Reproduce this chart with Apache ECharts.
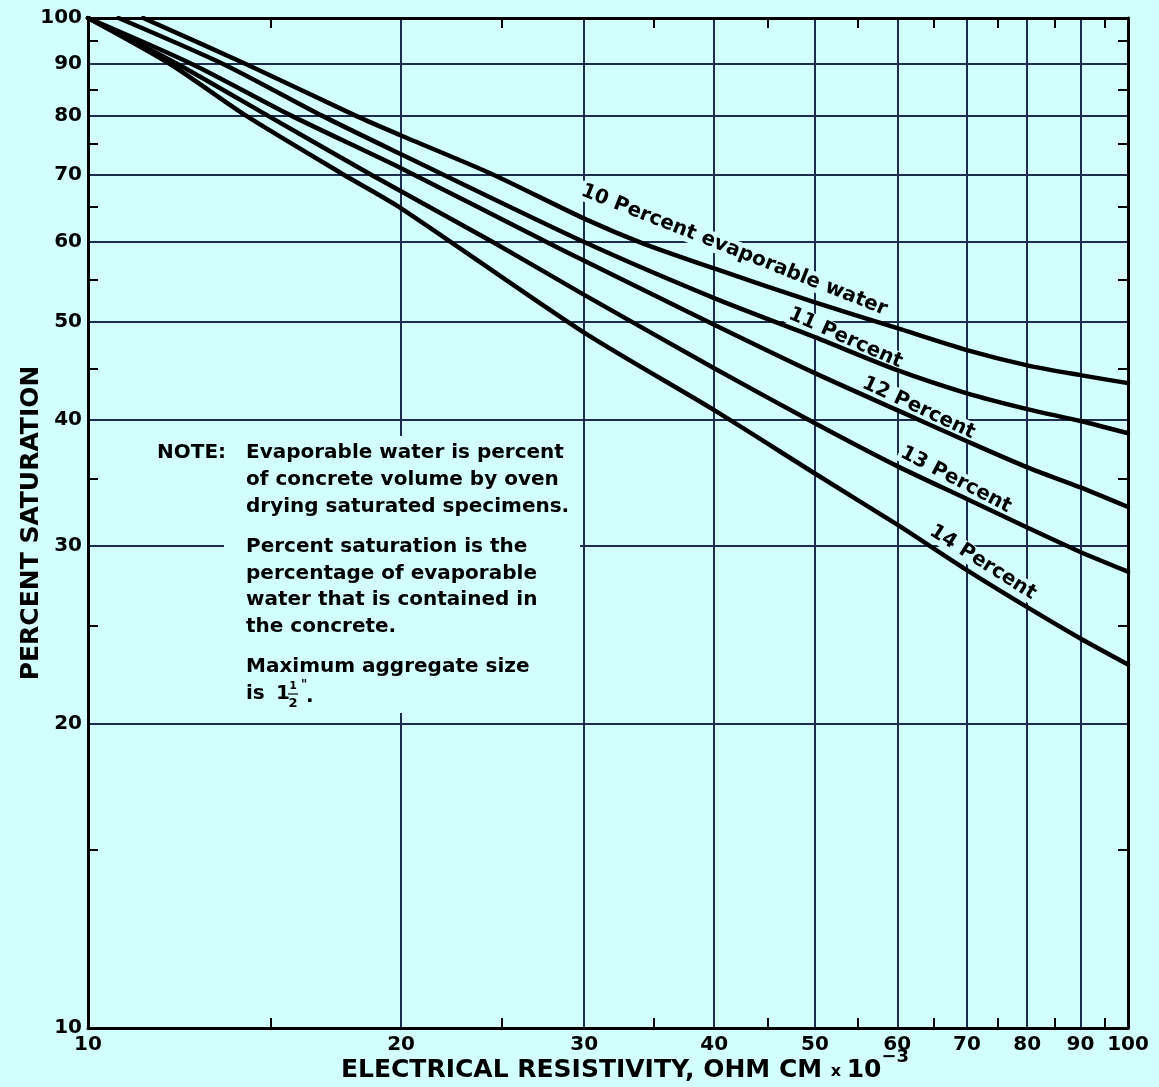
<!DOCTYPE html>
<html>
<head>
<meta charset="utf-8">
<script src="https://cdn.jsdelivr.net/npm/echarts@6/dist/echarts.min.js"></script>
<style>
html,body{margin:0;padding:0;background:#d2fefe;}
#c{width:1159px;height:1087px;}
</style>
</head>
<body>
<div id="c"></div>
<script>
// ---------- data (log-log chart) ----------
const xMajorTicks = [10, 20, 30, 40, 50, 60, 70, 80, 90, 100];
const xMinorTicks = [15, 25, 35, 45, 55, 65, 75, 85, 95];
const yMajorTicks = [10, 20, 30, 40, 50, 60, 70, 80, 90, 100];
const yMinorTicks = [15, 25, 35, 45, 55, 65, 75, 85, 95];

const seriesNames = ['10 Percent evaporable water', '11 Percent', '12 Percent', '13 Percent', '14 Percent'];

const c10x = [11.3, 14.2, 18.1, 20, 24.5, 30, 34.2, 40, 50, 60, 70, 80, 90, 100];
const c10y = [100, 90, 80, 76.5, 70, 63.3, 59.8, 56.5, 52.3, 49.3, 46.9, 45.3, 44.3, 43.5];

const c11x = [10.7, 13.5, 16.8, 20, 30, 40, 50, 60, 70, 80, 90, 100];
const c11y = [100, 90, 80, 73.3, 60, 52.8, 48.3, 44.8, 42.5, 41.0, 39.9, 38.8];

const c12x = [10, 12.6, 15.7, 20, 27.6, 30, 40, 50, 60, 70, 80, 90, 100];
const c12y = [100, 90, 80, 71.0, 60, 57.5, 49.7, 44.5, 40.9, 38.1, 35.9, 34.3, 32.8];

const c13x = [10, 12.2, 14.9, 18.7, 24.5, 30, 40, 50, 60, 70, 80, 90, 100];
const c13y = [100, 90, 80, 70, 60, 53.2, 45.0, 39.7, 36.0, 33.4, 31.3, 29.6, 28.3];

const c14x = [10, 12.0, 14.2, 17.6, 20, 30, 40, 50, 60, 70, 80, 90, 100];
const c14y = [100, 90, 80, 70, 64.8, 48.8, 40.9, 35.4, 31.5, 28.4, 26.1, 24.3, 22.9];

const noteLines = [
  'Evaporable water is percent',
  'of concrete volume by oven',
  'drying saturated specimens.',
  'Percent saturation is the',
  'percentage of evaporable',
  'water that is contained in',
  'the concrete.',
  'Maximum aggregate size'
];

// ---------- styling / layout ----------
const BG = '#d2fefe';
const GRID = '#1d2b50';
const INK = '#000000';
const FONT = 'DejaVu Sans';
const lg = v => Math.log10(v);
const fmt = v => String(Math.round(Math.pow(10, v)));

const curves = [
  {name: seriesNames[0], x: c10x, y: c10y},
  {name: seriesNames[1], x: c11x, y: c11y},
  {name: seriesNames[2], x: c12x, y: c12y},
  {name: seriesNames[3], x: c13x, y: c13y},
  {name: seriesNames[4], x: c14x, y: c14y}
];

// label anchors (data coordinates) and text angle for each curve label
const curveLabelPlacement = [
  {at: [41.8, 58.9], angle: 21.5},
  {at: [53.5, 48.2], angle: 24},
  {at: [62.9, 41.1], angle: 25},
  {at: [68.3, 34.9], angle: 27.5},
  {at: [72.5, 28.9], angle: 32.5}
];

const frameLine = {show: true, onZero: false, lineStyle: {color: INK, width: 3}};
const minorTick = (vals) => ({show: true, inside: true, length: 10, customValues: vals.map(lg), lineStyle: {color: INK, width: 2}});
const labelStyle = {color: INK, fontFamily: FONT, fontSize: 20, fontWeight: 'bold'};

const chart = echarts.init(document.getElementById('c'), null, {renderer: 'canvas'});

const option = {
  animation: false,
  backgroundColor: BG,
  textStyle: {fontFamily: FONT},
  grid: {left: 88, right: 31, top: 18, bottom: 59, containLabel: false, outerBoundsMode: 'none'},
  xAxis: [
    {
      type: 'value', min: 1, max: 2, position: 'bottom',
      axisLine: frameLine,
      axisTick: {show: false, customValues: xMajorTicks.map(lg)},
      axisLabel: Object.assign({customValues: xMajorTicks.map(lg), formatter: fmt, margin: 7, hideOverlap: false}, labelStyle),
      splitLine: {show: true, lineStyle: {color: GRID, width: 2}},
      name: '{a|ELECTRICAL RESISTIVITY, OHM CM }{x|x }{a|10}{s|\u22123}',
      nameLocation: 'middle',
      nameGap: 20,
      nameMoveOverlap: false,
      nameTextStyle: {
        padding: [0, 0, 0, 34],
        rich: {
          a: {fontFamily: FONT, fontSize: 25, fontWeight: 'bold', color: INK, lineHeight: 44},
          x: {fontFamily: FONT, fontSize: 16, fontWeight: 'bold', color: INK, lineHeight: 20, padding: [4, 0, 0, 0]},
          s: {fontFamily: FONT, fontSize: 18, fontWeight: 'bold', color: INK, lineHeight: 24, verticalAlign: 'top'}
        }
      }
    },
    {
      type: 'value', min: 1, max: 2, position: 'bottom',
      axisLine: {show: false, onZero: false},
      axisTick: minorTick(xMinorTicks),
      axisLabel: {show: false},
      splitLine: {show: false}
    },
    {
      type: 'value', min: 1, max: 2, position: 'top',
      axisLine: frameLine,
      axisTick: minorTick(xMinorTicks),
      axisLabel: {show: false},
      splitLine: {show: false}
    }
  ],
  yAxis: [
    {
      type: 'value', min: 1, max: 2, position: 'left',
      axisLine: frameLine,
      axisTick: {show: false, customValues: yMajorTicks.map(lg)},
      axisLabel: Object.assign({customValues: yMajorTicks.map(lg), formatter: fmt, margin: 6, hideOverlap: false}, labelStyle),
      splitLine: {show: true, lineStyle: {color: GRID, width: 2}},
      name: 'PERCENT SATURATION',
      nameLocation: 'middle',
      nameGap: 44,
      nameRotate: 90,
      nameMoveOverlap: false,
      nameTextStyle: {fontFamily: FONT, fontSize: 25, fontWeight: 'bold', color: INK}
    },
    {
      type: 'value', min: 1, max: 2, position: 'left',
      axisLine: {show: false, onZero: false},
      axisTick: minorTick(yMinorTicks),
      axisLabel: {show: false},
      splitLine: {show: false}
    },
    {
      type: 'value', min: 1, max: 2, position: 'right',
      axisLine: frameLine,
      axisTick: minorTick(yMinorTicks),
      axisLabel: {show: false},
      splitLine: {show: false}
    }
  ],
  series: curves.map(c => ({
    type: 'line',
    name: c.name,
    xAxisIndex: 0,
    yAxisIndex: 0,
    data: c.x.map((xv, i) => [lg(xv), lg(c.y[i])]),
    showSymbol: false,
    symbol: 'none',
    smooth: 0.25,
    silent: true,
    z: 3,
    lineStyle: {color: INK, width: 4.5, cap: 'round', join: 'round'}
  }))
};

chart.setOption(option);

// ---------- annotations ----------
const graphics = [];
curves.forEach((c, i) => {
  const pl = curveLabelPlacement[i];
  const p = chart.convertToPixel({seriesIndex: 0}, [lg(pl.at[0]), lg(pl.at[1])]);
  graphics.push({
    type: 'text', x: p[0], y: p[1], rotation: -pl.angle * Math.PI / 180, z: 1,
    style: {
      text: c.name, fill: INK, font: 'bold 20px "DejaVu Sans"',
      align: 'center', verticalAlign: 'middle',
      backgroundColor: BG, padding: [0, 2]
    }
  });
});

// note block background (hides grid lines like the original)
graphics.push({type: 'rect', z: 1, shape: {x: 150, y: 440, width: 90, height: 28}, style: {fill: BG}});
graphics.push({type: 'rect', z: 1, shape: {x: 224, y: 436, width: 356, height: 277}, style: {fill: BG}});

const noteFont = 'bold 20px "DejaVu Sans"';
graphics.push({type: 'text', z: 2, x: 157, y: 453, style: {text: 'NOTE:', font: noteFont, fill: INK, align: 'left', verticalAlign: 'middle'}});
const noteY = [453, 480, 507, 547, 574, 600, 627, 667];
noteLines.forEach((t, i) => {
  graphics.push({type: 'text', z: 2, x: 246, y: noteY[i], style: {text: t, font: noteFont, fill: INK, align: 'left', verticalAlign: 'middle'}});
});
// "is 1 1/2"."
graphics.push({type: 'text', z: 2, x: 246, y: 694, style: {text: 'is', font: noteFont, fill: INK, align: 'left', verticalAlign: 'middle'}});
graphics.push({type: 'text', z: 2, x: 276, y: 694, style: {text: '1', font: noteFont, fill: INK, align: 'left', verticalAlign: 'middle'}});
graphics.push({type: 'text', z: 2, x: 293, y: 686, style: {text: '1', font: 'bold 11px "DejaVu Sans"', fill: INK, align: 'center', verticalAlign: 'middle'}});
graphics.push({type: 'line', z: 2, shape: {x1: 288, y1: 694, x2: 298, y2: 694}, style: {stroke: INK, lineWidth: 1.2}});
graphics.push({type: 'text', z: 2, x: 293, y: 704, style: {text: '2', font: 'bold 13px "DejaVu Sans"', fill: INK, align: 'center', verticalAlign: 'middle'}});
graphics.push({type: 'text', z: 2, x: 301, y: 685, style: {text: '"', font: 'bold 12px "DejaVu Sans"', fill: INK, align: 'left', verticalAlign: 'middle'}});
graphics.push({type: 'text', z: 2, x: 306, y: 697, style: {text: '.', font: noteFont, fill: INK, align: 'left', verticalAlign: 'middle'}});

chart.setOption({graphic: graphics});
</script>
</body>
</html>
